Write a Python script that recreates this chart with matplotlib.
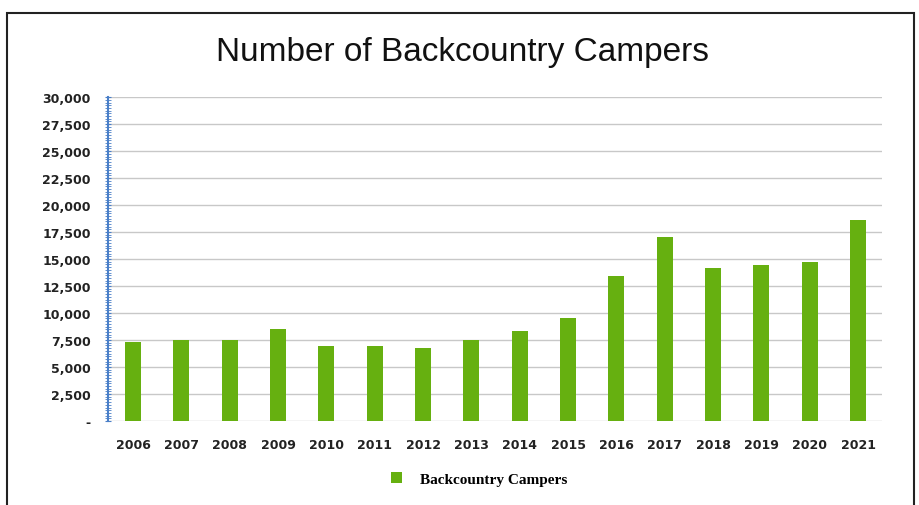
import matplotlib
matplotlib.use('Agg')
import matplotlib.pyplot as plt
from matplotlib.ticker import MultipleLocator, FuncFormatter
from matplotlib.patches import Rectangle

anos = ['2006', '2007', '2008', '2009', '2010', '2011', '2012', '2013',
        '2014', '2015', '2016', '2017', '2018', '2019', '2020', '2021']
campistas = [7290, 7530, 7530, 8520, 6910, 6910, 6760, 7530,
             8360, 9510, 13460, 17040, 14200, 14440, 14690, 18640]

verde = '#66b010'
azul = '#4a7fc8'

fig = plt.figure(figsize=(9.2, 5.06), dpi=100)
ax = fig.add_axes([0.1174, 0.166, 0.9584 - 0.1174, 0.806 - 0.166])

x = list(range(len(anos)))
ax.bar(x, campistas, width=0.33, color=verde, zorder=3, label='Backcountry Campers')

ax.set_xlim(-0.52, 15.49)
ax.set_ylim(0, 30000)
ax.yaxis.set_major_locator(MultipleLocator(2500))
ax.yaxis.set_minor_locator(MultipleLocator(250))

def formatar(v, pos):
    if v == 0:
        return '-'
    return '{:,.0f}'.format(v)

ax.yaxis.set_major_formatter(FuncFormatter(formatar))
ax.grid(axis='y', color='#c8c8c8', linewidth=1, zorder=0)

for lado in ['top', 'right', 'bottom']:
    ax.spines[lado].set_visible(False)
ax.spines['left'].set_color(azul)
ax.spines['left'].set_linewidth(1.5)

ax.tick_params(axis='y', which='major', colors=azul, length=5, direction='inout', pad=10)
ax.tick_params(axis='y', which='minor', colors=azul, length=4, direction='inout')
ax.tick_params(axis='x', length=0, pad=12)
for t in ax.get_yticklabels():
    t.set_color('#222222')
    t.set_fontweight('bold')
    t.set_fontsize(9)
    t.set_family('DejaVu Sans')

ax.set_xticks(x)
ax.set_xticklabels(anos, fontsize=9, fontweight='bold', color='#222222', family='DejaVu Sans')

fig.text(0.503, 0.897, 'Number of Backcountry Campers', ha='center', va='center',
         fontsize=24, family='Liberation Sans', color='#111111')

ax.legend(loc='center', bbox_to_anchor=(0.48, -0.18), frameon=False,
          prop={'family': 'Liberation Serif', 'weight': 'bold', 'size': 11},
          handlelength=0.7, handleheight=0.7, handletextpad=1.2)

borda = Rectangle((7 / 920, -0.05), (914 - 7) / 920, (506 - 14) / 506 + 0.05,
                  transform=fig.transFigure, fill=False, edgecolor='#222222', linewidth=1.5)
fig.patches.append(borda)

fig.savefig('out.png', dpi=100)
